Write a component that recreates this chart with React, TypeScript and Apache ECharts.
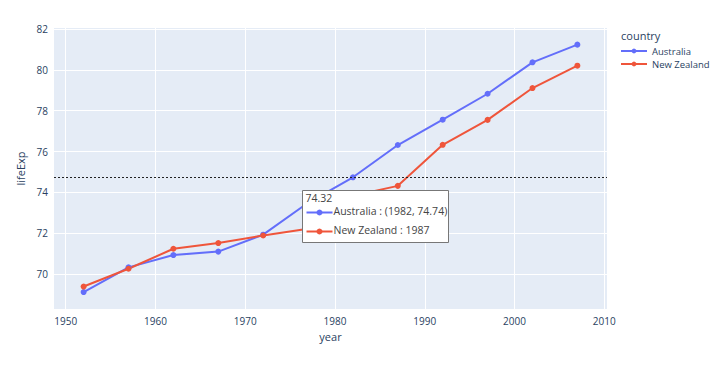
import React, { useEffect, useRef } from "react";
import * as echarts from "echarts";

const years = [1952, 1957, 1962, 1967, 1972, 1977, 1982, 1987, 1992, 1997, 2002, 2007];
const australia = [69.12, 70.33, 70.93, 71.1, 71.93, 73.49, 74.74, 76.32, 77.56, 78.83, 80.37, 81.235];
const newZealand = [69.39, 70.26, 71.24, 71.52, 71.89, 72.22, 73.84, 74.32, 76.33, 77.55, 79.11, 80.204];
const xTicks = [1950, 1960, 1970, 1980, 1990, 2000, 2010];
const yTicks = [70, 72, 74, 76, 78, 80, 82];
const refLine = 74.74;

const FONT = '"Open Sans", "Noto Sans", sans-serif';
const TXT = "#2a3f5f";

export default function App() {
  const ref = useRef<HTMLDivElement>(null);
  useEffect(() => {
    if (!ref.current) return;
    const chart = echarts.init(ref.current, undefined, { renderer: "svg" });
    const mk = (name: string, vals: number[], color: string) => ({
      name,
      type: "line",
      data: years.map((y, i) => [y, vals[i]]),
      symbol: "circle",
      symbolSize: 6,
      lineStyle: { color, width: 2 },
      itemStyle: { color },
      z: 3,
    });
    const Z = 100;
    chart.setOption({
      animation: false,
      backgroundColor: "#fff",
      textStyle: { fontFamily: FONT, color: TXT },
      grid: { left: 54, right: 105, top: 28, bottom: 58, show: true, backgroundColor: "#E5ECF6", borderWidth: 0 },
      xAxis: {
        type: "value",
        min: 1948.7,
        max: 2010.3,
        name: "year",
        nameLocation: "middle",
        nameGap: 18,
        nameTextStyle: { color: TXT, fontSize: 11, fontFamily: FONT },
        axisLine: { show: false },
        axisTick: { show: false, customValues: xTicks },
        axisLabel: { customValues: xTicks, formatter: (v: number) => String(v), color: TXT, fontSize: 10, fontFamily: FONT, margin: 7 },
        splitLine: { show: true, lineStyle: { color: "#fff", width: 1 } },
      },
      yAxis: {
        type: "value",
        min: 68.29,
        max: 82.05,
        name: "lifeExp",
        nameLocation: "middle",
        nameGap: 28,
        nameTextStyle: { color: TXT, fontSize: 11, fontFamily: FONT },
        axisLine: { show: false },
        axisTick: { show: false, customValues: yTicks },
        axisLabel: { customValues: yTicks, formatter: (v: number) => String(v), color: TXT, fontSize: 10, fontFamily: FONT, margin: 6 },
        splitLine: { show: true, lineStyle: { color: "#fff", width: 1 } },
      },
      legend: {
        orient: "vertical",
        left: 620,
        top: 46,
        padding: 0,
        itemWidth: 26,
        itemHeight: 6,
        itemGap: 3,
        textStyle: { color: TXT, fontSize: 9.5, fontFamily: FONT, overflow: "none" },
        data: ["Australia", "New Zealand"],
      },
      series: [
        {
          ...mk("Australia", australia, "#636efa"),
          markLine: {
            silent: true,
            symbol: "none",
            label: { show: false },
            lineStyle: { color: "#222", type: [2, 2], width: 1 },
            data: [{ yAxis: refLine }],
          },
        },
        mk("New Zealand", newZealand, "#EF553B"),
      ],
      graphic: [
        { type: "text", left: 621, top: 30, style: { text: "country", fill: TXT, font: `11px ${FONT}` } },
        {
          type: "group",
          left: 302,
          top: 190,
          z: Z,
          children: [
            { type: "rect", z: Z, shape: { x: 0, y: 0, width: 146, height: 52 }, style: { fill: "#fff", stroke: "#777", lineWidth: 1 } },
            { type: "text", z: Z + 1, x: 3, y: 2, style: { text: "74.32", fill: "#444", font: `10.5px ${FONT}` } },
            { type: "line", z: Z + 1, shape: { x1: 4, y1: 22, x2: 30, y2: 22 }, style: { stroke: "#636efa", lineWidth: 2 } },
            { type: "circle", z: Z + 2, shape: { cx: 17, cy: 22, r: 3 }, style: { fill: "#636efa" } },
            { type: "text", z: Z + 1, x: 31, y: 15, style: { text: "Australia : (1982, 74.74)", fill: "#444", font: `10.5px ${FONT}` } },
            { type: "line", z: Z + 1, shape: { x1: 4, y1: 41, x2: 30, y2: 41 }, style: { stroke: "#EF553B", lineWidth: 2 } },
            { type: "circle", z: Z + 2, shape: { cx: 17, cy: 41, r: 3 }, style: { fill: "#EF553B" } },
            { type: "text", z: Z + 1, x: 31, y: 34, style: { text: "New Zealand : 1987", fill: "#444", font: `10.5px ${FONT}` } },
          ],
        },
      ],
    });
    return () => chart.dispose();
  }, []);
  return <div ref={ref} style={{ position: "absolute", left: 0, top: 0, width: 712, height: 367 }} />;
}
